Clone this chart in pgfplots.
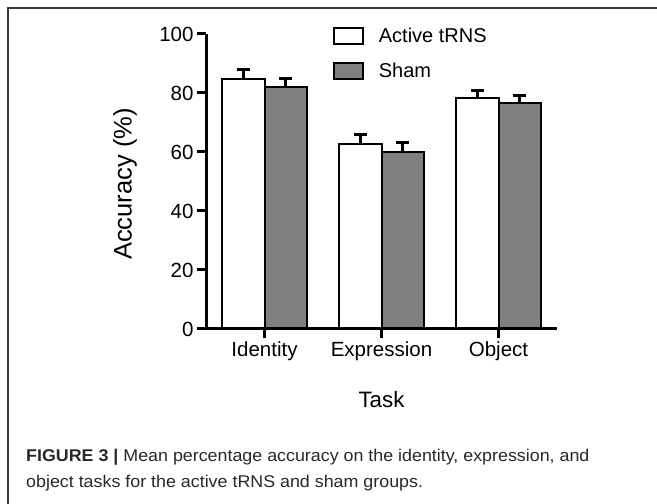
\documentclass[border=0pt]{standalone}
\usepackage{pgfplots}
\pgfplotsset{compat=1.18}
\usepackage{fontspec}
\setmainfont{Liberation Sans}
\newfontfamily\capfont[FakeStretch=1.05]{Liberation Sans}
\definecolor{shamgray}{RGB}{128,128,128}
\definecolor{captxt}{RGB}{40,40,40}
\begin{document}
\begin{tikzpicture}[x=1pt,y=1pt]
\useasboundingbox (0,0) rectangle (657,504);
\draw[line width=1.4pt, black!78] (8,0) -- (8,496) -- (657,496);
\begin{axis}[
  at={(206pt,175pt)}, anchor=south west,
  scale only axis, width=351pt, height=295pt,
  xmin=-0.5, xmax=2.5, ymin=0, ymax=100,
  axis x line*=bottom, axis y line*=left,
  axis line style={line width=3pt, black},
  axis on top,
  ybar=0pt, bar width=42.5pt,
  xtick={0,1,2}, xticklabels={Identity,Expression,Object},
  ytick={0,20,40,60,80,100},
  tick align=outside, major tick length=9pt,
  tick style={line width=3pt, black},
  /pgf/number format/assume math mode=true,
  ticklabel style={font=\fontsize{20.5}{24}\selectfont},
  xlabel={Task}, ylabel={Accuracy (\%)},
  xlabel style={at={(axis description cs:0.5,-0.2668)}, anchor=base, font=\fontsize{22.3}{26}\selectfont},
  ylabel style={at={(axis description cs:-0.2117,0.4915)}, anchor=base, rotate=0, font=\fontsize{25.5}{30}\selectfont},
  legend style={draw=none, fill=none, inner sep=0pt, at={(axis description cs:0.361,1.024)}, anchor=north west,
    font=\fontsize{20}{24}\selectfont, row sep=17pt, nodes={inner sep=0pt}},
  legend cell align=left,
  legend image code/.code={\draw[#1, line width=2pt] (0pt,-8pt) rectangle (29pt,8pt); \path (44pt,0pt);},
  error bars/y dir=plus, error bars/y explicit,
  error bars/error bar style={line width=3pt, black},
  error bars/error mark options={rotate=90, line width=3pt, mark size=6.5pt, black},
]
\addplot[draw=black, fill=white, line width=2pt] coordinates {
  (0,84.7) +- (0,3.2)
  (1,62.7) +- (0,3.1)
  (2,78.2) +- (0,2.5)
};
\addlegendentry{Active tRNS}
\addplot[draw=black, fill=shamgray, line width=2pt] coordinates {
  (0,81.9) +- (0,3.1)
  (1,60.0) +- (0,3.2)
  (2,76.7) +- (0,2.6)
};
\addlegendentry{Sham}
\end{axis}
\node[anchor=base west, inner sep=0pt, text=captxt, font=\capfont\fontsize{17}{20}\selectfont] at (26,42) {\textbf{FIGURE 3 |} Mean percentage accuracy on the identity, expression, and};
\node[anchor=base west, inner sep=0pt, text=captxt, font=\capfont\fontsize{17}{20}\selectfont] at (26,16.3) {object tasks for the active tRNS and sham groups.};
\end{tikzpicture}
\end{document}
